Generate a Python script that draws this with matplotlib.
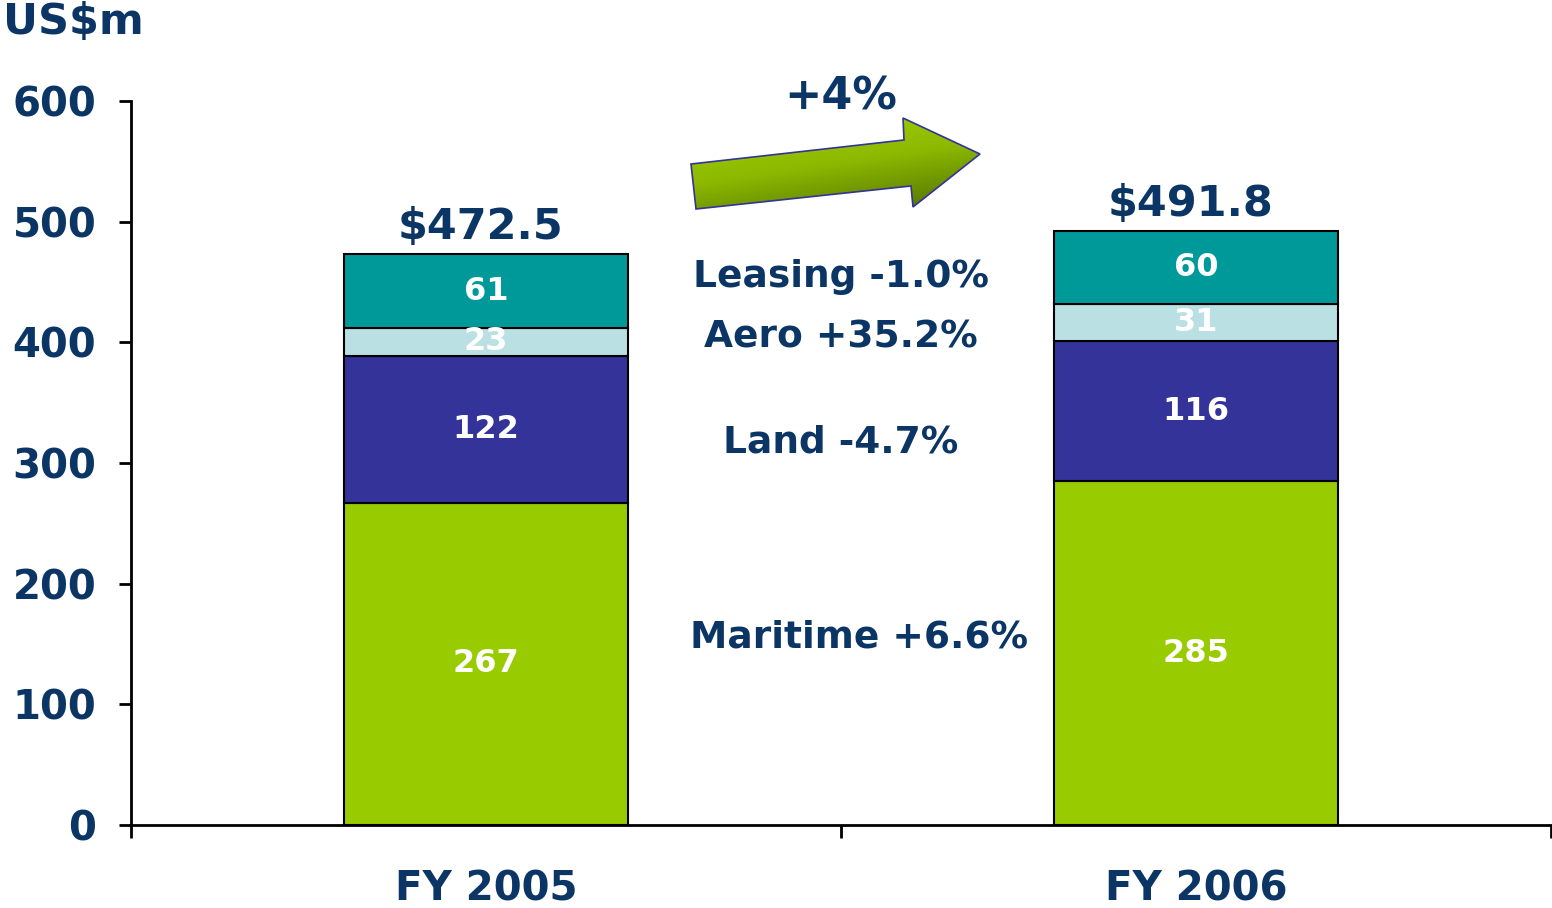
import numpy as np
import matplotlib.pyplot as plt
from matplotlib.patches import Polygon
from matplotlib.colors import LinearSegmentedColormap

# Revenue by segment, US$m
years = ["FY 2005", "FY 2006"]
maritime = [267, 285]
land = [122, 116]
aero = [23, 31]
leasing = [61, 60]
totals = [472.5, 491.8]

segments = ["Maritime", "Land", "Aero", "Leasing"]
seg_colors = ["#99CC00", "#333399", "#BBE0E3", "#009999"]
growth = ["Maritime +6.6%", "Land -4.7%", "Aero +35.2%", "Leasing -1.0%"]
growth_y = [155, 317, 404, 454]
overall = "+4%"

navy = "#0B3565"
plt.rcParams["font.family"] = ["DejaVu Sans"]
plt.rcParams["font.weight"] = "bold"

fig = plt.figure(figsize=(15.52, 9.08), dpi=100)
ax = fig.add_axes([131 / 1552, 83 / 908, 1 - 131 / 1552 - 0.0005, 724 / 908])

x = np.arange(len(years))
bottom = np.zeros(len(years))
for vals, col in zip([maritime, land, aero, leasing], seg_colors):
    bars = ax.bar(x, vals, width=0.4, bottom=bottom, color=col,
                  edgecolor="black", linewidth=1.5, zorder=2)
    ax.bar_label(bars, labels=[str(v) for v in vals], label_type="center",
                 color="white", fontsize=23, fontweight="bold")
    bottom += np.array(vals)

for xi, t in zip(x, totals):
    ax.annotate(f"${t}", (xi, t), xytext=(-4, 5), textcoords="offset points",
                ha="center", va="bottom", fontsize=31, fontweight="bold",
                color=navy)

for lab, gy in zip(growth, growth_y):
    dx = 0.025 if lab.startswith("Maritime") else 0.0
    ax.text(0.5 + dx, gy, lab, ha="center", va="center", fontsize=27,
            fontweight="bold", color=navy)
ax.text(0.5, 603, overall, ha="center", va="center", fontsize=32,
        fontweight="bold", color=navy)

ax.set_xlim(-0.5, 1.5)
ax.set_ylim(0, 600)
ax.set_yticks(range(0, 601, 100))
ax.set_xticks(x)
ax.set_xticklabels(years)
ax.set_xticks([-0.5, 0.5, 1.5], minor=True)
ax.tick_params(axis="x", which="major", length=0, pad=32, labelsize=29,
               labelcolor=navy)
ax.tick_params(axis="x", which="minor", length=9, width=2, direction="out")
ax.tick_params(axis="y", length=9, width=2, direction="out", pad=16,
               labelsize=29, labelcolor=navy)
for lab in ax.get_xticklabels() + ax.get_yticklabels():
    lab.set_fontweight("bold")
for s in ["top", "right"]:
    ax.spines[s].set_visible(False)
for s in ["left", "bottom"]:
    ax.spines[s].set_linewidth(2)

fig.text(3 / 1552, 1 - 22 / 908, "US$m", ha="left", va="center", fontsize=31,
         fontweight="bold", color=navy)

# gradient arrow overlay in pixel coordinates
ov = fig.add_axes([0, 0, 1, 1], zorder=5)
ov.set_xlim(0, 1552)
ov.set_ylim(908, 0)
ov.axis("off")
verts = [(691, 164), (904, 140), (903, 118), (980, 154), (913, 207),
         (911, 186), (696, 209)]
poly = Polygon(verts, closed=True, facecolor="none", edgecolor="#333399",
               linewidth=1.2, zorder=3)
ov.add_patch(poly)
cmap = LinearSegmentedColormap.from_list("g", ["#A4D400", "#8DB800", "#4E6E00"])
gx, gy = np.meshgrid(np.linspace(0, 1, 200), np.linspace(0, 1, 100))
grad = 0.75 * gy + 0.35 * gx
img = ov.imshow(grad, extent=(690, 981, 210, 117), cmap=cmap, aspect="auto",
                zorder=2, vmin=0, vmax=1.1)
img.set_clip_path(poly)

fig.savefig("out.png", dpi=100)
